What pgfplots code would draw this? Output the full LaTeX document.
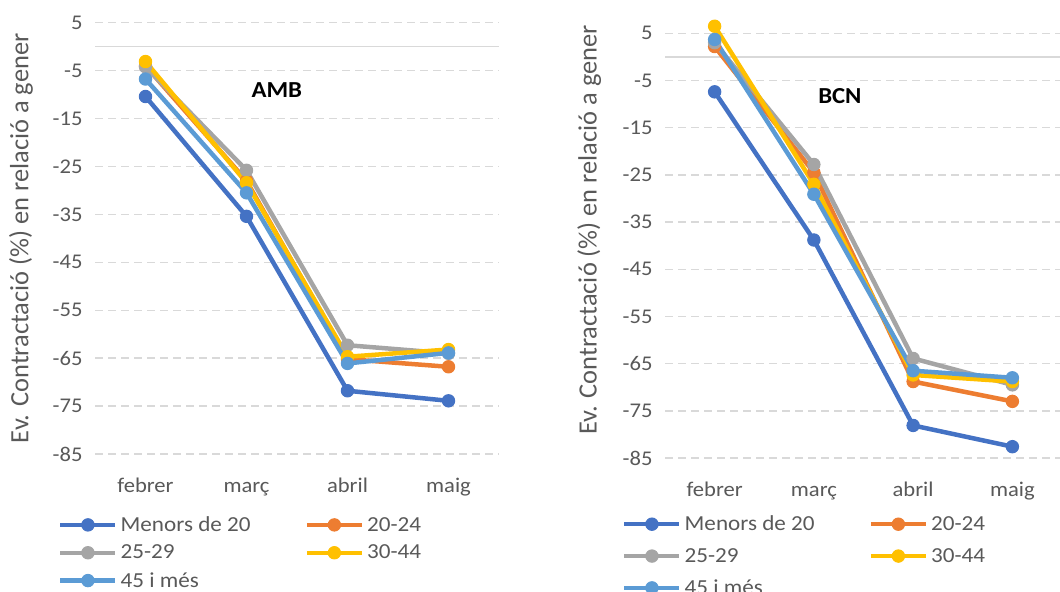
\documentclass[border=0pt]{standalone}
\usepackage{fontspec}
\setmainfont{Carlito}[FakeStretch=1.08]
\newfontfamily\ylabfont{Carlito}
\usepackage{pgfplots}
\pgfplotsset{compat=1.18}
\definecolor{c1}{HTML}{4472C4}
\definecolor{c2}{HTML}{ED7D31}
\definecolor{c3}{HTML}{A5A5A5}
\definecolor{c4}{HTML}{FFC000}
\definecolor{c5}{HTML}{5B9BD5}
\definecolor{txt}{HTML}{595959}
\definecolor{gridc}{HTML}{D9D9D9}
\pgfplotsset{
  mystyle/.style={
    scale only axis,
    xmin=-0.5, xmax=3.5, ymin=-85, ymax=5,
    xtick={0,1,2,3}, xticklabels={febrer,març,abril,maig},
    ytick={-85,-75,...,5},
    axis line style={draw=none},
    tick style={draw=none},
    ymajorgrids,
    major grid style={draw=gridc, line width=1.4bp, dash pattern=on 8bp off 5bp},
    extra y ticks={0}, extra y tick labels={},
    extra y tick style={grid=major, major grid style={draw=gridc, line width=1.6bp, solid}},
    ticklabel style={font=\fontsize{21}{25}\selectfont, text=txt},
    yticklabel style={xshift=-9bp},
    xticklabel style={anchor=base, yshift=-38bp},
    /pgf/number format/assume math mode=true,
    clip=false,
    legend columns=2,
    legend cell align=left,
    legend style={draw=none, fill=none, inner sep=0pt, anchor=north west,
      font=\fontsize{21.5}{25}\selectfont, text=txt,
      nodes={inner sep=0pt},
      /tikz/column 2/.style={column sep=54bp},
      /tikz/column 1/.style={column sep=3bp},
      /tikz/column 3/.style={column sep=3bp}},
    legend image code/.code={\draw[##1, mark repeat=2, mark phase=2] plot coordinates {(0bp,0bp) (27.5bp,0bp) (55bp,0bp)};},
    every axis plot/.append style={line width=4.5bp, line join=round, mark=*, mark size=6.2bp},
    ylabel={Ev. Contractació (\%) en relació a gener},
    ylabel style={font=\ylabfont\fontsize{26.5}{30}\selectfont, text=txt, anchor=base},
  },
  s1/.style={color=c1, mark options={fill=c1, draw=c1, line width=1bp, solid}},
  s2/.style={color=c2, mark options={fill=c2, draw=c2, line width=1bp, solid}},
  s3/.style={color=c3, mark options={fill=c3, draw=c3, line width=1bp, solid}},
  s4/.style={color=c4, mark options={fill=c4, draw=c4, line width=1bp, solid}},
  s5/.style={color=c5, mark options={fill=c5, draw=c5, line width=1bp, solid}},
}
\begin{document}
\begin{tikzpicture}
\useasboundingbox (0,0) rectangle (1060bp,-592bp);
% AMB
\begin{axis}[mystyle,
  at={(95bp,-454bp)}, anchor=south west,
  width=404bp, height=431.3bp,
  ylabel style={at={(rel axis cs:-0.1651,0.5)}},
  legend style={at={(axis description cs:-0.0916,-0.1449)}, /tikz/row sep=12bp},
]
\addplot[s1] coordinates {(0,-10.4) (1,-35.4) (2,-71.8) (3,-73.9)};
\addplot[s2] coordinates {(0,-4.0) (1,-28.0) (2,-65.2) (3,-66.8)};
\addplot[s3] coordinates {(0,-4.2) (1,-25.8) (2,-62.3) (3,-64.0)};
\addplot[s4] coordinates {(0,-3.1) (1,-28.4) (2,-64.7) (3,-63.2)};
\addplot[s5] coordinates {(0,-6.75) (1,-30.5) (2,-66.1) (3,-63.9)};
\legend{Menors de 20, 20-24, 25-29, 30-44, 45 i més}
\node[font=\fontsize{23}{27}\selectfont\bfseries, text=black] at (axis cs:1.30,-9.05) {AMB};
\end{axis}
% BCN
\begin{axis}[mystyle,
  at={(665bp,-458bp)}, anchor=south west,
  width=397bp, height=424.7bp,
  ylabel style={at={(rel axis cs:-0.172,0.5367)}},
  legend style={at={(axis description cs:-0.1083,-0.1361)}, /tikz/row sep=16bp},
]
\addplot[s1] coordinates {(0,-7.4) (1,-38.8) (2,-78.1) (3,-82.6)};
\addplot[s2] coordinates {(0,2.2) (1,-24.5) (2,-68.8) (3,-73.0)};
\addplot[s3] coordinates {(0,3.0) (1,-22.8) (2,-63.9) (3,-69.5)};
\addplot[s4] coordinates {(0,6.5) (1,-27.0) (2,-67.4) (3,-68.8)};
\addplot[s5] coordinates {(0,3.7) (1,-29.1) (2,-66.5) (3,-68.0)};
\legend{Menors de 20, 20-24, 25-29, 30-44, 45 i més}
\node[font=\fontsize{23}{27}\selectfont\bfseries, text=black] at (axis cs:1.262,-8.2) {BCN};
\end{axis}
\end{tikzpicture}
\end{document}
